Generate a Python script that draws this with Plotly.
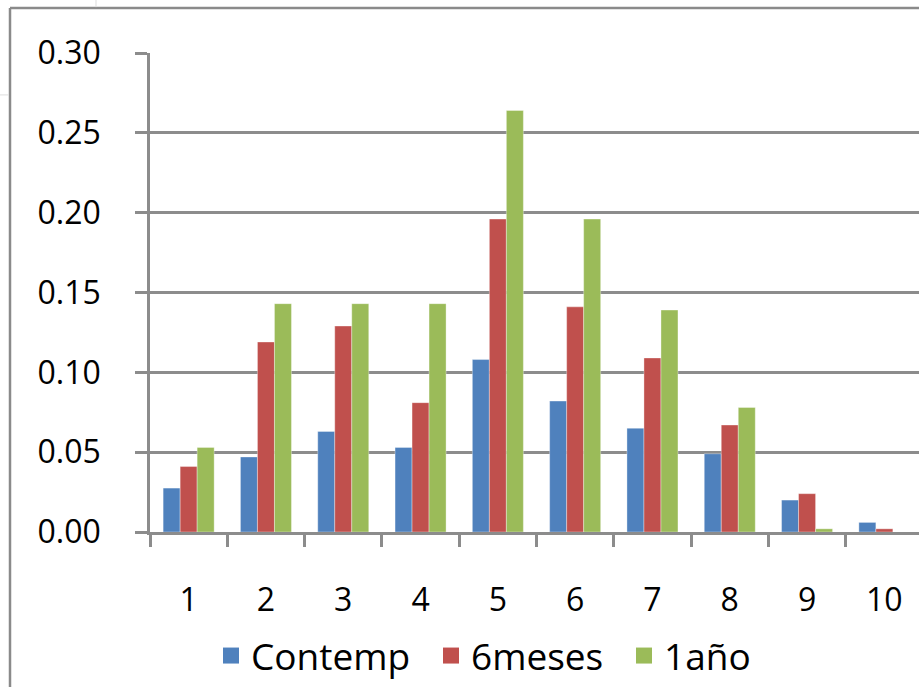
import plotly.graph_objects as go

categories = ["1", "2", "3", "4", "5", "6", "7", "8", "9", "10"]
contemp = [0.0275, 0.047, 0.063, 0.053, 0.108, 0.082, 0.065, 0.049, 0.020, 0.006]
seis_meses = [0.041, 0.119, 0.129, 0.081, 0.196, 0.141, 0.109, 0.067, 0.024, 0.002]
un_anio = [0.053, 0.143, 0.143, 0.143, 0.264, 0.196, 0.139, 0.078, 0.002, 0.0]
y_ticks = [0.0, 0.05, 0.10, 0.15, 0.20, 0.25, 0.30]

series = [
    ("Contemp", contemp, "#4F81BD", 175),
    ("6meses", seis_meses, "#C0504D", 148),
    ("1año", un_anio, "#9BBB59", 100),
]

FONT = "Open Sans"
GRAY = "#8c8c8c"

fig = go.Figure()
for name, vals, col, lw in series:
    fig.add_trace(go.Bar(
        x=categories, y=vals, name=name, showlegend=False,
        marker=dict(color=col, line=dict(color="rgba(255,255,255,0.35)", width=1)),
    ))
# legend proxies (larger square swatches)
for name, vals, col, lw in series:
    fig.add_trace(go.Scatter(
        x=[None], y=[None], mode="markers", name=name, legendwidth=lw,
        marker=dict(symbol="square", size=16, color=col),
    ))

W, H = 919, 687
L, R, T, B = 150, 0, 53, 154
pw, ph = W - L - R, H - T - B

def px(x):
    return (x - L) / pw

def py(y):
    return (H - B - y) / ph

fig.update_layout(
    width=W, height=H,
    margin=dict(l=L, r=R, t=T, b=B, pad=0),
    paper_bgcolor="white", plot_bgcolor="white",
    barmode="group", bargap=0.34, bargroupgap=0,
    font=dict(family=FONT, size=32, color="black"),
    legend=dict(
        orientation="h", x=px(211), xanchor="left", y=py(657), yanchor="middle",
        font=dict(family=FONT, size=37, color="black"),
        itemwidth=30, tracegroupgap=0, bgcolor="rgba(0,0,0,0)",
    ),
    xaxis=dict(
        type="category", range=[-0.5, 9.448],
        showgrid=False, showline=True, linecolor=GRAY, linewidth=2.5,
        ticks="outside", tickson="boundaries", ticklen=12, tickwidth=2.5, tickcolor=GRAY,
        ticklabelstandoff=38, tickfont=dict(family=FONT, size=32),
        zeroline=False,
    ),
    yaxis=dict(
        range=[0, 0.30], tickvals=y_ticks, tickformat=".2f",
        showgrid=True, gridcolor=GRAY, gridwidth=2.5,
        showline=True, linecolor=GRAY, linewidth=2.5,
        ticks="outside", ticklen=12, tickwidth=2.5, tickcolor=GRAY,
        ticklabelstandoff=28, tickfont=dict(family=FONT, size=32),
        zeroline=False,
    ),
    shapes=[
        dict(type="line", xref="paper", yref="paper", x0=px(10), x1=px(940), y0=py(8), y1=py(8),
             line=dict(color="#8a8a8a", width=2.5)),
        dict(type="line", xref="paper", yref="paper", x0=px(10), x1=px(10), y0=py(8), y1=py(700),
             line=dict(color="#8a8a8a", width=2.5)),
        dict(type="line", xref="paper", yref="paper", x0=px(96), x1=px(96), y0=py(-5), y1=py(7),
             line=dict(color="#dddddd", width=1)),
        dict(type="line", xref="paper", yref="paper", x0=px(-5), x1=px(9), y0=py(95), y1=py(95),
             line=dict(color="#dddddd", width=1)),
    ],
)

fig.write_html(
    "out.html",
    config={"displayModeBar": False},
    post_script="document.body.style.margin='0';document.body.style.overflow='hidden';",
)
